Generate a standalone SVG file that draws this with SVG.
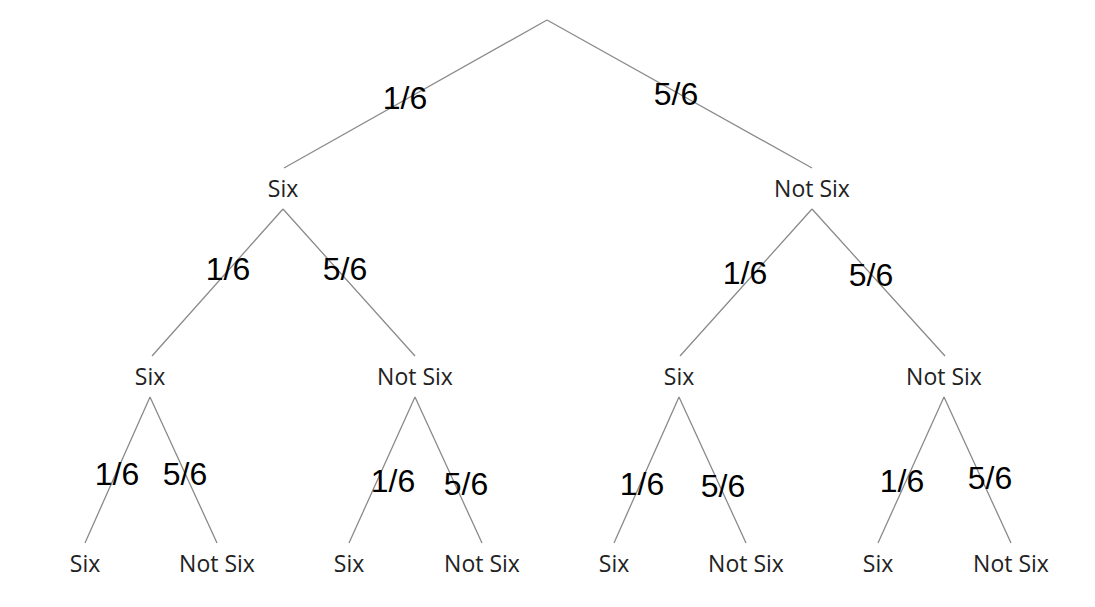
<svg xmlns="http://www.w3.org/2000/svg" width="1095" height="607" viewBox="0 0 1095 607">
<style>
.e{stroke:#8a8a8a;stroke-width:1.3;fill:none}
.n{font-family:"Open Sans","Noto Sans",sans-serif;font-size:23px;fill:#222;text-anchor:middle}
.p{font-family:"Liberation Sans",Arial,sans-serif;font-size:32px;fill:#000;text-anchor:middle}
</style>
<rect width="1095" height="607" fill="#fff"/>
<g id="connectors">
<path class="e" d="M547,20L284,168M547,20L812,168"/>
<path class="e" d="M283,209L152,356M283,209L415,356M812,209L680,356M812,209L945,356"/>
<path class="e" d="M150,397L85,543M150,397L217,543M415,397L349,543M415,397L482,543M679,397L614,543M679,397L746,543M944,397L878,543M944,397L1011,543"/>
<text class="p" x="405" y="109">1/6</text>
<text class="p" x="676" y="105">5/6</text>
<text class="p" x="228" y="280">1/6</text>
<text class="p" x="345" y="280">5/6</text>
<text class="p" x="745" y="284">1/6</text>
<text class="p" x="871" y="286">5/6</text>
<text class="p" x="117" y="485">1/6</text>
<text class="p" x="185" y="485">5/6</text>
<text class="p" x="393" y="492">1/6</text>
<text class="p" x="466" y="495">5/6</text>
<text class="p" x="642" y="495">1/6</text>
<text class="p" x="723" y="497">5/6</text>
<text class="p" x="902" y="492">1/6</text>
<text class="p" x="990" y="489">5/6</text>
</g>
<g id="n1"><text class="n" x="283" y="197">Six</text></g>
<g id="n2"><text class="n" x="812" y="197">Not Six</text></g>
<g id="n3"><text class="n" x="150" y="385">Six</text></g>
<g id="n4"><text class="n" x="415" y="385">Not Six</text></g>
<g id="n5"><text class="n" x="679" y="385">Six</text></g>
<g id="n6"><text class="n" x="944" y="385">Not Six</text></g>
<g id="n7"><text class="n" x="85" y="572">Six</text></g>
<g id="n8"><text class="n" x="217" y="572">Not Six</text></g>
<g id="n9"><text class="n" x="349" y="572">Six</text></g>
<g id="n10"><text class="n" x="482" y="572">Not Six</text></g>
<g id="n11"><text class="n" x="614" y="572">Six</text></g>
<g id="n12"><text class="n" x="746" y="572">Not Six</text></g>
<g id="n13"><text class="n" x="878" y="572">Six</text></g>
<g id="n14"><text class="n" x="1011" y="572">Not Six</text></g>
</svg>
